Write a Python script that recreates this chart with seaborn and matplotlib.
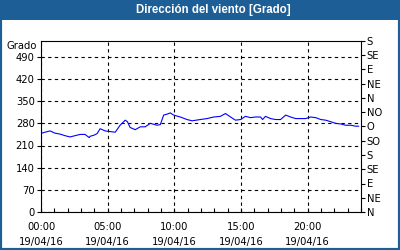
import matplotlib
matplotlib.use("Agg")
import matplotlib.pyplot as plt
from matplotlib.patches import Rectangle
import seaborn as sns
import pandas as pd

# Data (minutes since 00:00, direction in degrees)
minutes = [0, 18, 41, 63, 86, 108, 131, 153, 176, 198, 217, 221, 240, 253, 266, 289, 311, 334, 356, 379, 389,
           401, 424, 447, 469, 492, 522, 537, 552, 567, 582, 597, 627, 657, 680, 717,
           747, 777, 807, 830, 853, 875, 898, 920, 943, 965, 988, 997, 1010, 1033,
           1056, 1078, 1101, 1123, 1146, 1168, 1191, 1213, 1236, 1259, 1281, 1304,
           1326, 1349, 1371, 1394, 1416, 1430]
direction = [248, 252, 256, 249, 246, 241, 237, 241, 245, 245, 235, 239, 243, 248, 263, 256, 254, 252, 274, 290, 285,
             267, 260, 269, 269, 280, 274, 276, 306, 309, 313, 306, 300, 292, 288, 292,
             295, 300, 302, 311, 300, 290, 292, 302, 298, 300, 300, 292, 302, 295,
             292, 292, 306, 300, 295, 295, 295, 300, 298, 292, 290, 285,
             280, 278, 274, 274, 271, 271]

y_ticks = [0, 70, 140, 210, 280, 350, 420, 490]
x_ticks = [0, 5, 10, 15, 20]
x_labels = ["00:00\n19/04/16", "05:00\n19/04/16", "10:00\n19/04/16",
            "15:00\n19/04/16", "20:00\n19/04/16"]
compass_ticks = list(range(0, 541, 45))
compass_labels = ["N", "NE", "E", "SE", "S", "SO", "O", "NO", "N", "NE", "E", "SE", "S"]

title = "Dirección del viento [Grado]"
unit_label = "Grado"

sns.set_theme(style="white")
plt.rcParams["font.family"] = ["DejaVu Sans"]
fs = 7.2

df = pd.DataFrame({"hour": [m / 60 for m in minutes], "dir": direction})

fig = plt.figure(figsize=(4, 2.5), dpi=100)
fig.patch.set_facecolor("white")
ax = fig.add_axes([41 / 400, 1 - 212 / 250, 320 / 400, 171 / 250])

blue = "#1e5e96"
fig.patches.append(Rectangle((0, 0), 1, 1, transform=fig.transFigure, fill=False,
                             edgecolor=blue, linewidth=3, zorder=0))
fig.patches.append(Rectangle((0, 1 - 20 / 250), 1, 20 / 250, transform=fig.transFigure,
                             facecolor=blue, edgecolor="none", zorder=0))
fig.text(213 / 400, 1 - 10.5 / 250, title, color="white", fontweight="bold",
         fontsize=8.3, ha="center", va="center", family=["Liberation Sans"])

sns.lineplot(data=df, x="hour", y="dir", ax=ax, color="#0000ff", linewidth=0.8)

ax.set_xlim(0, 24)
ax.set_ylim(0, 540)
ax.set_xlabel("")
ax.set_ylabel("")
ax.set_xticks(x_ticks)
ax.set_xticklabels(x_labels, linespacing=1.7)
ax.set_xticks(range(0, 25), minor=True)
ax.set_yticks(y_ticks)
ax.grid(True, color="black", linestyle=(0, (3, 3)), linewidth=0.8)
for s in ax.spines.values():
    s.set_color("black")
    s.set_linewidth(0.8)
ax.tick_params(axis="x", which="both", direction="in", length=3, width=0.8,
               colors="black", pad=7, labelsize=fs, bottom=True)
ax.tick_params(axis="y", which="major", direction="out", length=3, width=0.8,
               colors="black", pad=1.5, labelsize=fs, left=True)
ax.tick_params(axis="y", which="minor", left=False)

ax2 = ax.twinx()
ax2.set_ylim(0, 540)
ax2.set_yticks(compass_ticks)
ax2.set_yticklabels(compass_labels)
ax2.tick_params(axis="y", direction="out", length=3, width=0.8, colors="black",
                pad=1, labelsize=fs, right=True)
for s in ax2.spines.values():
    s.set_visible(False)
ax2.grid(False)

fig.text(37 / 400, 1 - 46 / 250, unit_label, ha="right", va="center", fontsize=fs,
         color="black")

fig.savefig("out.png", dpi=100, facecolor="white")
